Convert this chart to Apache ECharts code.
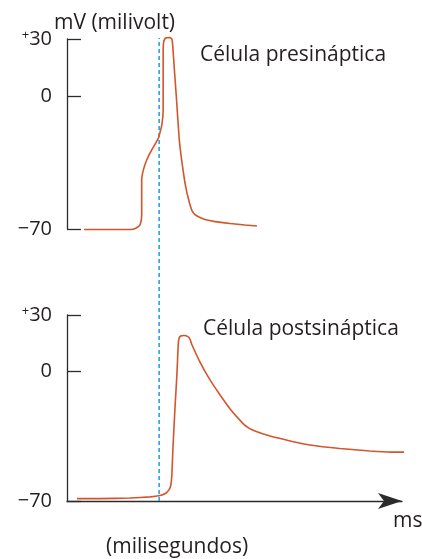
<!DOCTYPE html>
<html>
<head>
<meta charset="utf-8">
<script src="https://cdn.jsdelivr.net/npm/echarts@6/dist/echarts.min.js"></script>
<style>
html,body{margin:0;padding:0;background:#fff;}
#c{width:422px;height:559px;}
</style>
</head>
<body>
<div id="c"></div>
<script>
// ---- data (time in ms, potential in mV) ----
const yTicks = [-70, 0, 30];
const synapseTime = [2.75];

const preTime = [0.51,1.28,1.82,2.00,2.13,2.19,2.23,2.23,2.23,2.28,2.38,2.53,2.73,2.83,2.87,2.87,2.87,2.89,2.94,3.07,3.13,3.155,3.206,3.260,3.310,3.352,3.403,3.463,3.522,3.582,3.657,3.731,3.821,3.940,4.12,4.42,4.87,5.31,5.67];
const preMv   = [-70.3,-70.3,-70.3,-70.0,-68.8,-67.4,-62.6,-52.1,-44.2,-38.9,-33.7,-28.4,-22.1,-15.3,-7.4,8.4,24.2,28.9,30.5,30.8,30.0,26.8,13.7,0.5,-12.6,-23.2,-31.1,-38.9,-45.8,-51.1,-56.3,-60.3,-62.4,-63.7,-65.0,-66.1,-67.1,-67.9,-68.4];

const postTime = [0.30,0.99,1.88,2.48,2.78,2.96,3.06,3.10,3.13,3.16,3.22,3.28,3.32,3.34,3.39,3.49,3.61,3.67,3.72,3.97,4.27,4.57,4.87,5.16,5.37,5.61,6.06,6.66,7.25,8.15,9.04,9.64,10.18];
const postMv   = [-68.7,-68.7,-68.4,-67.8,-67.0,-65.7,-63.5,-61.4,-56.0,-42.6,-21.1,-2.3,13.9,17.1,18.7,19.0,18.4,17.1,14.4,4.7,-4.9,-13.0,-20.5,-26.5,-30.2,-32.4,-35.1,-37.7,-39.9,-41.8,-43.1,-43.7,-43.7];

const labels = {
  yName: 'mV (milivolt)',
  pre: 'Célula presináptica',
  post: 'Célula postsináptica',
  xUnit: 'ms',
  xName: '(milisegundos)'
};

// ---- styles ----
const FONT = '"Open Sans", "Noto Sans", sans-serif';
const TXT = '#231f20';
const AX = '#2b2b2b';
const RED = '#d4552b';
const BLUE = '#1a9be0';

const zip = (a, b) => a.map((v, i) => [v, b[i]]);

function yAxisFor(gridIndex) {
  return {
    type: 'value', gridIndex, min: -70, max: 30,
    axisLine: { show: true, lineStyle: { color: AX, width: 1.3 } },
    axisTick: { show: true, inside: true, length: 14, customValues: yTicks, lineStyle: { color: AX, width: 1.3 } },
    axisLabel: {
      show: true, customValues: yTicks, margin: 15,
      fontFamily: FONT, fontSize: 20, color: TXT,
      formatter: v => v === 30 ? '{p|+}30' : (v === -70 ? '−70' : String(v)),
      rich: { p: { fontSize: 13, fontFamily: FONT, color: TXT, verticalAlign: 'top', padding: [0, 0, 8, 0] } }
    },
    splitLine: { show: false }
  };
}

const tStyle = { fontFamily: FONT, fontSize: 21, fontWeight: 'normal', color: TXT };

const chart = echarts.init(document.getElementById('c'), null, { renderer: 'canvas' });
chart.setOption({
  animation: false,
  backgroundColor: '#fff',
  title: [
    { text: labels.yName, left: 54, top: 13, padding: 0, textStyle: tStyle },
    { text: labels.pre, left: 200, top: 45, padding: 0, textStyle: tStyle },
    { text: labels.post, left: 203, top: 319, padding: 0, textStyle: tStyle },
    { text: labels.xUnit, left: 393, top: 511, padding: 0, textStyle: tStyle },
    { text: labels.xName, left: 106, top: 537, padding: 0, textStyle: tStyle }
  ],
  grid: [
    { left: 67, top: 39, width: 335, height: 190 },
    { left: 67, top: 315, width: 335, height: 186 },
    { left: 67, top: 38, width: 335, height: 463 }
  ],
  xAxis: [
    { type: 'value', gridIndex: 0, min: 0, max: 10, show: false },
    { type: 'value', gridIndex: 1, min: 0, max: 10,
      axisLine: { show: true, onZero: false, symbol: ['none', 'arrow'], symbolSize: [12, 24], symbolOffset: [0, 0], lineStyle: { color: AX, width: 1.3 } },
      axisTick: { show: false }, axisLabel: { show: false }, splitLine: { show: false } },
    { type: 'value', gridIndex: 2, min: 0, max: 10, show: false }
  ],
  yAxis: [
    yAxisFor(0),
    yAxisFor(1),
    { type: 'value', gridIndex: 2, min: 0, max: 1, show: false }
  ],
  series: [
    { type: 'line', xAxisIndex: 2, yAxisIndex: 2, data: [[synapseTime[0], 0], [synapseTime[0], 1]],
      symbol: 'none', silent: true, lineStyle: { color: BLUE, width: 1.5, type: [4, 3] }, z: 1 },
    { type: 'line', xAxisIndex: 0, yAxisIndex: 0, data: zip(preTime, preMv), symbol: 'none',
      smooth: 0.1, clip: false, lineStyle: { color: RED, width: 1.6 }, z: 3 },
    { type: 'line', xAxisIndex: 1, yAxisIndex: 1, data: zip(postTime, postMv), symbol: 'none',
      smooth: 0.1, clip: false, lineStyle: { color: RED, width: 1.6 }, z: 3 }
  ]
});
</script>
</body>
</html>
